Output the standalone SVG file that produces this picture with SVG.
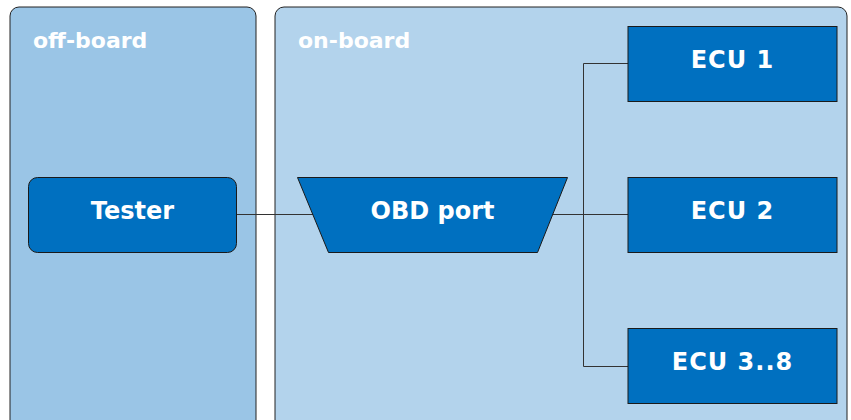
<svg xmlns="http://www.w3.org/2000/svg" width="851" height="420" viewBox="0 0 851 420">
  <style>
    .panel { stroke: #222; stroke-width: 1; }
    .box { fill: #0070c0; stroke: #1a1a1a; stroke-width: 1; }
    .title { font-family: "DejaVu Sans", sans-serif; font-weight: bold; font-size: 22px; fill: #ffffff; }
    .label { font-family: "DejaVu Sans", sans-serif; font-weight: bold; font-size: 24px; fill: #ffffff; text-anchor: middle; }
    .wire { fill: none; stroke: #333; stroke-width: 1; }
  </style>
  <rect width="851" height="420" fill="#ffffff"/>

  <!-- domains -->
  <g id="off-board">
    <rect class="panel" x="10" y="7" width="246" height="430" rx="9" fill="#9ac5e6"/>
    <text class="title" x="33" y="48">off-board</text>
  </g>
  <g id="on-board">
    <rect class="panel" x="275" y="7" width="572" height="430" rx="9" fill="#b3d3ec"/>
    <text class="title" x="298" y="48">on-board</text>
  </g>

  <!-- connectors -->
  <g id="connectors">
    <line class="wire" x1="237" y1="214.5" x2="313" y2="214.5"/>
    <line class="wire" x1="552" y1="214.5" x2="628" y2="214.5"/>
    <polyline class="wire" points="628,63.5 583.5,63.5 583.5,366.5 628,366.5"/>
  </g>

  <!-- nodes -->
  <g id="tester">
    <rect class="box" x="28.5" y="177.5" width="208" height="75" rx="9"/>
    <text class="label" x="132.5" y="219">Tester</text>
  </g>
  <g id="obd-port">
    <polygon class="box" points="297.5,177.5 567.5,177.5 537.5,252.5 328.5,252.5"/>
    <text class="label" x="432.5" y="219">OBD port</text>
  </g>
  <g id="ecu1">
    <rect class="box" x="628" y="26.5" width="209" height="75"/>
    <text class="label" x="732.5" y="68" letter-spacing="1">ECU 1</text>
  </g>
  <g id="ecu2">
    <rect class="box" x="628" y="177.5" width="209" height="75"/>
    <text class="label" x="732.5" y="219" letter-spacing="1">ECU 2</text>
  </g>
  <g id="ecu3-8">
    <rect class="box" x="628" y="328.5" width="209" height="75"/>
    <text class="label" x="732.5" y="370" letter-spacing="1">ECU 3..8</text>
  </g>
</svg>
